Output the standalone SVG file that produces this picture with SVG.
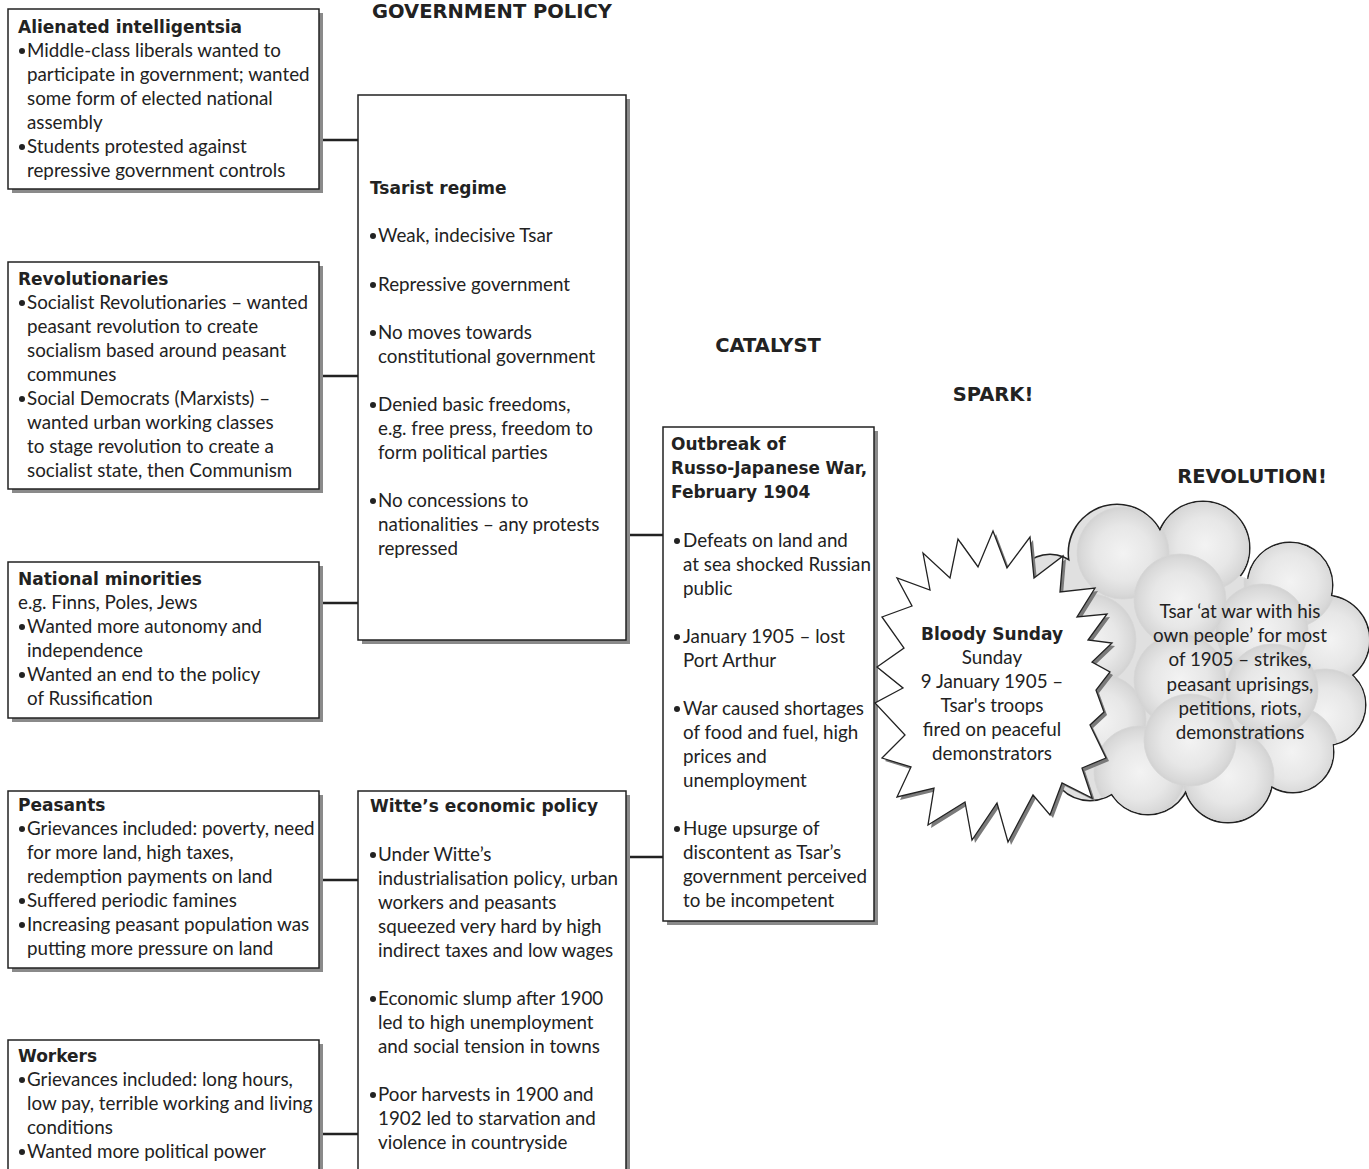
<svg xmlns="http://www.w3.org/2000/svg" width="1369" height="1169" viewBox="0 0 1369 1169">
  <style>
    .shadow { fill: #8a8a8a; }
    .box { fill: #ffffff; stroke: #222222; stroke-width: 1.5; }
    .t { font-family: Lato, "Open Sans", "Liberation Sans", sans-serif; font-size: 18.8px; fill: #222222; }
    .b { font-family: "DejaVu Sans", "Liberation Sans", sans-serif; font-size: 17px; font-weight: bold; }
    .h { font-family: "DejaVu Sans", "Liberation Sans", sans-serif; font-size: 19.5px; font-weight: bold; fill: #222222; }
    .c { text-anchor: middle; }
    .dot { fill: #222222; }
    .conn { stroke: #222222; stroke-width: 2.5; fill: none; }
    .edge { fill: none; stroke: #222222; stroke-width: 3; }
    .puff { fill: #e0e0e0; }
  </style>
  <defs>
    <radialGradient id="sphere" cx="0.5" cy="0.5" r="0.5">
      <stop offset="0" stop-color="#f3f3f3"/>
      <stop offset="0.6" stop-color="#e7e7e7"/>
      <stop offset="0.9" stop-color="#d9d9d9"/>
      <stop offset="1" stop-color="#d2d2d2"/>
    </radialGradient>
    <clipPath id="cloudClip">
      <circle cx="1117" cy="553" r="48"/>
      <circle cx="1203" cy="548" r="46"/>
      <circle cx="1290" cy="585" r="42"/>
      <circle cx="1325" cy="640" r="44"/>
      <circle cx="1325" cy="705" r="40"/>
      <circle cx="1293" cy="752" r="40"/>
      <circle cx="1228" cy="778" r="44"/>
      <circle cx="1148" cy="772" r="42"/>
      <circle cx="1090" cy="760" r="40"/>
      <circle cx="1070" cy="690" r="40"/>
      <circle cx="1075" cy="610" r="42"/>
      <circle cx="1050" cy="590" r="35"/>
      <polygon points="1080,580 1200,560 1300,600 1320,700 1230,770 1100,750 1075,650"/>
    </clipPath>
    <g id="cloudShape">
      <circle cx="1117" cy="553" r="48"/>
      <circle cx="1203" cy="548" r="46"/>
      <circle cx="1290" cy="585" r="42"/>
      <circle cx="1325" cy="640" r="44"/>
      <circle cx="1325" cy="705" r="40"/>
      <circle cx="1293" cy="752" r="40"/>
      <circle cx="1228" cy="778" r="44"/>
      <circle cx="1148" cy="772" r="42"/>
      <circle cx="1090" cy="760" r="40"/>
      <circle cx="1070" cy="690" r="40"/>
      <circle cx="1075" cy="610" r="42"/>
      <circle cx="1050" cy="590" r="35"/>
    </g>
    <polygon id="star" points="993,531 1007,568 1030,537 1034,578 1063,556 1060,592 1095,588 1077,617 1107,614 1088,640 1112,643 1092,662 1110,672 1096,690 1104,712 1090,725 1106,758 1082,768 1092,798 1062,783 1050,815 1033,795 1008,842 997,803 972,840 965,802 928,825 934,788 897,797 911,767 882,758 905,735 875,703 903,688 877,667 904,648 882,617 912,606 897,578 930,590 923,553 950,578 958,539 978,567"/>
  </defs>

  <rect width="1369" height="1169" fill="#ffffff"/>

  <!-- column headings -->
  <text class="h c" x="492" y="18">GOVERNMENT POLICY</text>
  <text class="h c" x="768" y="352">CATALYST</text>
  <text class="h c" x="993" y="401">SPARK!</text>
  <text class="h c" x="1252" y="483">REVOLUTION!</text>

  <!-- connectors -->
  <g id="connectors">
    <line class="conn" x1="319" y1="140" x2="358" y2="140"/>
    <line class="conn" x1="319" y1="376" x2="358" y2="376"/>
    <line class="conn" x1="319" y1="603" x2="358" y2="603"/>
    <line class="conn" x1="319" y1="880" x2="358" y2="880"/>
    <line class="conn" x1="319" y1="1134" x2="358" y2="1134"/>
    <line class="conn" x1="626" y1="535" x2="663" y2="535"/>
    <line class="conn" x1="626" y1="857" x2="663" y2="857"/>
  </g>

  <!-- Alienated intelligentsia -->
  <g id="intelligentsia">
    <rect class="shadow" x="12" y="13" width="311" height="180"/>
    <rect class="box" x="8" y="9" width="311" height="180"/>
    <text class="t b" x="18" y="33">Alienated intelligentsia</text>
    <circle class="dot" cx="22" cy="51" r="3"/>
    <text class="t"><tspan x="27" y="57">Middle-class liberals wanted to</tspan><tspan x="27" y="81">participate in government; wanted</tspan><tspan x="27" y="105">some form of elected national</tspan><tspan x="27" y="129">assembly</tspan></text>
    <circle class="dot" cx="22" cy="147" r="3"/>
    <text class="t"><tspan x="27" y="153">Students protested against</tspan><tspan x="27" y="177">repressive government controls</tspan></text>
  </g>

  <!-- Revolutionaries -->
  <g id="revolutionaries">
    <rect class="shadow" x="12" y="266" width="311" height="227"/>
    <rect class="box" x="8" y="262" width="311" height="227"/>
    <text class="t b" x="18" y="285">Revolutionaries</text>
    <circle class="dot" cx="22" cy="303" r="3"/>
    <text class="t"><tspan x="27" y="309">Socialist Revolutionaries – wanted</tspan><tspan x="27" y="333">peasant revolution to create</tspan><tspan x="27" y="357">socialism based around peasant</tspan><tspan x="27" y="381">communes</tspan></text>
    <circle class="dot" cx="22" cy="399" r="3"/>
    <text class="t"><tspan x="27" y="405">Social Democrats (Marxists) –</tspan><tspan x="27" y="429">wanted urban working classes</tspan><tspan x="27" y="453">to stage revolution to create a</tspan><tspan x="27" y="477">socialist state, then Communism</tspan></text>
  </g>

  <!-- National minorities -->
  <g id="minorities">
    <rect class="shadow" x="12" y="566" width="311" height="156"/>
    <rect class="box" x="8" y="562" width="311" height="156"/>
    <text class="t b" x="18" y="585">National minorities</text>
    <text class="t" x="18" y="609">e.g. Finns, Poles, Jews</text>
    <circle class="dot" cx="22" cy="627" r="3"/>
    <text class="t"><tspan x="27" y="633">Wanted more autonomy and</tspan><tspan x="27" y="657">independence</tspan></text>
    <circle class="dot" cx="22" cy="675" r="3"/>
    <text class="t"><tspan x="27" y="681">Wanted an end to the policy</tspan><tspan x="27" y="705">of Russification</tspan></text>
  </g>

  <!-- Peasants -->
  <g id="peasants">
    <rect class="shadow" x="12" y="795" width="311" height="177"/>
    <rect class="box" x="8" y="791" width="311" height="177"/>
    <text class="t b" x="18" y="811">Peasants</text>
    <circle class="dot" cx="22" cy="829" r="3"/>
    <text class="t"><tspan x="27" y="835">Grievances included: poverty, need</tspan><tspan x="27" y="859">for more land, high taxes,</tspan><tspan x="27" y="883">redemption payments on land</tspan></text>
    <circle class="dot" cx="22" cy="901" r="3"/>
    <text class="t" x="27" y="907">Suffered periodic famines</text>
    <circle class="dot" cx="22" cy="925" r="3"/>
    <text class="t"><tspan x="27" y="931">Increasing peasant population was</tspan><tspan x="27" y="955">putting more pressure on land</tspan></text>
  </g>

  <!-- Workers -->
  <g id="workers">
    <rect class="shadow" x="12" y="1044" width="311" height="140"/>
    <rect class="box" x="8" y="1040" width="311" height="140"/>
    <text class="t b" x="18" y="1062">Workers</text>
    <circle class="dot" cx="22" cy="1080" r="3"/>
    <text class="t"><tspan x="27" y="1086">Grievances included: long hours,</tspan><tspan x="27" y="1110">low pay, terrible working and living</tspan><tspan x="27" y="1134">conditions</tspan></text>
    <circle class="dot" cx="22" cy="1152" r="3"/>
    <text class="t" x="27" y="1158">Wanted more political power</text>
  </g>

  <!-- Tsarist regime -->
  <g id="tsarist">
    <rect class="shadow" x="362" y="99" width="268" height="545"/>
    <rect class="box" x="358" y="95" width="268" height="545"/>
    <text class="t b" x="370" y="194">Tsarist regime</text>
    <circle class="dot" cx="373" cy="236" r="3"/>
    <text class="t" x="378" y="242">Weak, indecisive Tsar</text>
    <circle class="dot" cx="373" cy="285" r="3"/>
    <text class="t" x="378" y="291">Repressive government</text>
    <circle class="dot" cx="373" cy="333" r="3"/>
    <text class="t"><tspan x="378" y="339">No moves towards</tspan><tspan x="378" y="363">constitutional government</tspan></text>
    <circle class="dot" cx="373" cy="405" r="3"/>
    <text class="t"><tspan x="378" y="411">Denied basic freedoms,</tspan><tspan x="378" y="435">e.g. free press, freedom to</tspan><tspan x="378" y="459">form political parties</tspan></text>
    <circle class="dot" cx="373" cy="501" r="3"/>
    <text class="t"><tspan x="378" y="507">No concessions to</tspan><tspan x="378" y="531">nationalities – any protests</tspan><tspan x="378" y="555">repressed</tspan></text>
  </g>

  <!-- Witte's economic policy -->
  <g id="witte">
    <rect class="shadow" x="362" y="795" width="268" height="390"/>
    <rect class="box" x="358" y="791" width="268" height="390"/>
    <text class="t b" x="370" y="812">Witte’s economic policy</text>
    <circle class="dot" cx="373" cy="855" r="3"/>
    <text class="t"><tspan x="378" y="861">Under Witte’s</tspan><tspan x="378" y="885">industrialisation policy, urban</tspan><tspan x="378" y="909">workers and peasants</tspan><tspan x="378" y="933">squeezed very hard by high</tspan><tspan x="378" y="957">indirect taxes and low wages</tspan></text>
    <circle class="dot" cx="373" cy="999" r="3"/>
    <text class="t"><tspan x="378" y="1005">Economic slump after 1900</tspan><tspan x="378" y="1029">led to high unemployment</tspan><tspan x="378" y="1053">and social tension in towns</tspan></text>
    <circle class="dot" cx="373" cy="1095" r="3"/>
    <text class="t"><tspan x="378" y="1101">Poor harvests in 1900 and</tspan><tspan x="378" y="1125">1902 led to starvation and</tspan><tspan x="378" y="1149">violence in countryside</tspan></text>
  </g>

  <!-- Outbreak of Russo-Japanese War -->
  <g id="war">
    <rect class="shadow" x="667" y="431" width="211" height="494"/>
    <rect class="box" x="663" y="427" width="211" height="494"/>
    <text class="t b"><tspan x="671" y="450">Outbreak of</tspan><tspan x="671" y="474" textLength="196" lengthAdjust="spacingAndGlyphs">Russo-Japanese War,</tspan><tspan x="671" y="498">February 1904</tspan></text>
    <circle class="dot" cx="677" cy="541" r="3"/>
    <text class="t"><tspan x="683" y="547">Defeats on land and</tspan><tspan x="683" y="571">at sea shocked Russian</tspan><tspan x="683" y="595">public</tspan></text>
    <circle class="dot" cx="677" cy="637" r="3"/>
    <text class="t"><tspan x="683" y="643">January 1905 – lost</tspan><tspan x="683" y="667">Port Arthur</tspan></text>
    <circle class="dot" cx="677" cy="709" r="3"/>
    <text class="t"><tspan x="683" y="715">War caused shortages</tspan><tspan x="683" y="739">of food and fuel, high</tspan><tspan x="683" y="763">prices and</tspan><tspan x="683" y="787">unemployment</tspan></text>
    <circle class="dot" cx="677" cy="829" r="3"/>
    <text class="t"><tspan x="683" y="835">Huge upsurge of</tspan><tspan x="683" y="859">discontent as Tsar’s</tspan><tspan x="683" y="883">government perceived</tspan><tspan x="683" y="907">to be incompetent</tspan></text>
  </g>

  <!-- Revolution cloud: outline from overlapping circles, then shaded spheres inside -->
  <g id="revolution">
    <use href="#cloudShape" class="edge"/>
    <use href="#cloudShape" class="puff"/>
    <polygon class="puff" points="1080,580 1200,560 1300,600 1320,700 1230,770 1100,750 1075,650"/>
    <g clip-path="url(#cloudClip)" fill="url(#sphere)" stroke="#d6d6d6" stroke-width="0.8">
      <circle cx="1330" cy="640" r="46"/>
      <circle cx="1325" cy="715" r="46"/>
      <circle cx="1290" cy="582" r="46"/>
      <circle cx="1205" cy="545" r="46"/>
      <circle cx="1123" cy="553" r="46"/>
      <circle cx="1262" cy="630" r="46"/>
      <circle cx="1090" cy="640" r="46"/>
      <circle cx="1180" cy="600" r="46"/>
      <circle cx="1292" cy="752" r="46"/>
      <circle cx="1272" cy="690" r="46"/>
      <circle cx="1100" cy="720" r="46"/>
      <circle cx="1180" cy="680" r="46"/>
      <circle cx="1228" cy="776" r="46"/>
      <circle cx="1140" cy="772" r="46"/>
      <circle cx="1190" cy="740" r="46"/>
    </g>
    <text class="t c"><tspan x="1240" y="618">Tsar ‘at war with his</tspan><tspan x="1240" y="642">own people’ for most</tspan><tspan x="1240" y="666">of 1905 – strikes,</tspan><tspan x="1240" y="691">peasant uprisings,</tspan><tspan x="1240" y="715">petitions, riots,</tspan><tspan x="1240" y="739">demonstrations</tspan></text>
  </g>

  <!-- Bloody Sunday starburst -->
  <g id="bloody-sunday">
    <use href="#star" fill="#7a7a7a" transform="translate(3,3)"/>
    <use href="#star" fill="#ffffff" stroke="#222222" stroke-width="1.3"/>
    <text class="t c"><tspan class="b" x="992" y="640">Bloody Sunday</tspan><tspan x="992" y="664">Sunday</tspan><tspan x="992" y="688">9 January 1905 –</tspan><tspan x="992" y="712">Tsar's troops</tspan><tspan x="992" y="736">fired on peaceful</tspan><tspan x="992" y="760">demonstrators</tspan></text>
  </g>
</svg>
